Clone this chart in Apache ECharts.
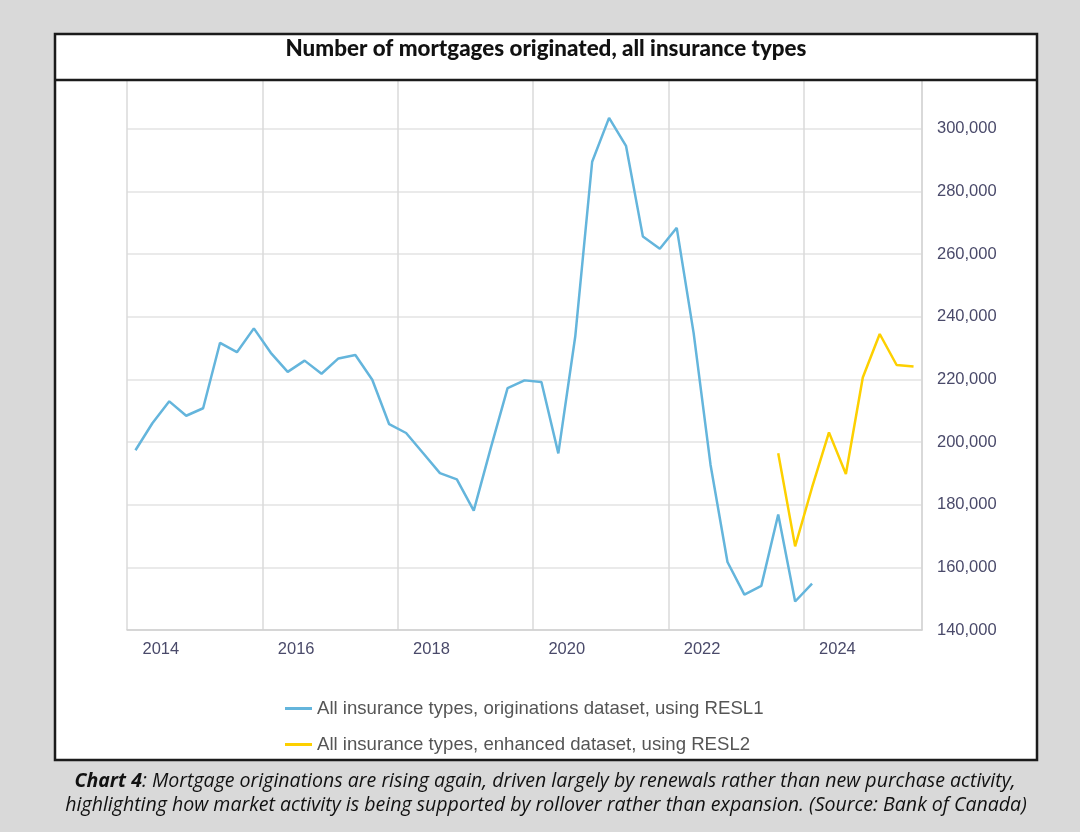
<!DOCTYPE html>
<html><head><meta charset="utf-8">
<script src="https://cdn.jsdelivr.net/npm/echarts@6/dist/echarts.min.js"></script>
<style>html,body{margin:0;padding:0;background:#d9d9d9;}#chart{width:1080px;height:832px;}</style>
</head><body><div id="chart"></div>
<script>
// ---- data ----
const titleText = 'Number of mortgages originated, all insurance types';
const captionBold = 'Chart 4';
const captionLine1 = ': Mortgage originations are rising again, driven largely by renewals rather than new purchase activity,';
const captionLine2 = 'highlighting how market activity is being supported by rollover rather than expansion. (Source: Bank of Canada)';
const seriesNames = ['All insurance types, originations dataset, using RESL1', 'All insurance types, enhanced dataset, using RESL2'];
const resl1Quarters = ['2014Q1','2014Q2','2014Q3','2014Q4','2015Q1','2015Q2','2015Q3','2015Q4','2016Q1','2016Q2','2016Q3','2016Q4','2017Q1','2017Q2','2017Q3','2017Q4','2018Q1','2018Q2','2018Q3','2018Q4','2019Q1','2019Q2','2019Q3','2019Q4','2020Q1','2020Q2','2020Q3','2020Q4','2021Q1','2021Q2','2021Q3','2021Q4','2022Q1','2022Q2','2022Q3','2022Q4','2023Q1','2023Q2','2023Q3','2023Q4','2024Q1'];
const resl1Values = [197400,206000,213000,208400,210800,231700,228700,236300,228500,222400,226000,221800,226700,227800,219900,205700,202900,196500,190100,188100,178100,198000,217200,219700,219200,196400,233700,289500,303500,294600,265600,261700,268400,234800,192700,161700,151300,154100,176900,149100,154800];
const resl2Quarters = ['2023Q3','2023Q4','2024Q1','2024Q2','2024Q3','2024Q4','2025Q1','2025Q2','2025Q3'];
const resl2Values = [196400,166700,185500,203100,189800,220600,234500,224600,224100];
const xLabelYears = [2014, 2016, 2018, 2020, 2022, 2024];

// ---- helpers ----
function quarterToX(q){ const y = +q.slice(0,4), n = +q.slice(5); return y + (n-1)/4 + 0.125; }
const mctx = document.createElement('canvas').getContext('2d');
function textW(font, s){ mctx.font = font; return mctx.measureText(s).width; }
const sansFam = '"Liberation Sans", Arial, sans-serif';
const titleFam = 'Lato, "Open Sans", sans-serif';
const capFam = '"Open Sans", "Noto Sans", sans-serif';
const titleSize = 20 * 518 / textW('bold 20px ' + titleFam, titleText);
const capSize = 17 * 962 / textW('italic 17px ' + capFam, captionLine2);

const chart = echarts.init(document.getElementById('chart'), null, {renderer: 'canvas'});
chart.setOption({
  animation: false,
  backgroundColor: '#d9d9d9',
  graphic: [
    {type: 'rect', z: -10, shape: {x: 55, y: 34, width: 982, height: 726}, style: {fill: '#ffffff', stroke: '#1b1b1b', lineWidth: 2.5}},
    {type: 'line', z: 100, shape: {x1: 55, y1: 80, x2: 1037, y2: 80}, style: {stroke: '#1b1b1b', lineWidth: 2.5}},
    {type: 'text', z: 100, style: {text: titleText, x: 546, y: 49, align: 'center', verticalAlign: 'middle', fontSize: titleSize, fontWeight: 900, fontFamily: titleFam, fill: '#111111'}},
    {type: 'text', z: 100, style: {text: '{b|' + captionBold + '}{i|' + captionLine1 + '}', x: 545, y: 781, align: 'center', verticalAlign: 'middle',
      rich: {b: {fontSize: capSize, fontWeight: 'bold', fontStyle: 'italic', fontFamily: capFam, fill: '#111111'},
             i: {fontSize: capSize, fontStyle: 'italic', fontFamily: capFam, fill: '#111111'}}}},
    {type: 'text', z: 100, style: {text: captionLine2, x: 546, y: 805, align: 'center', verticalAlign: 'middle', fontSize: capSize, fontStyle: 'italic', fontFamily: capFam, fill: '#111111'}}
  ],
  grid: {left: 127, right: 158, top: 80, bottom: 202, containLabel: false},
  legend: {
    data: seriesNames, orient: 'vertical', left: 280, top: 694, itemWidth: 27, itemHeight: 3, icon: 'rect', itemGap: 17,
    textStyle: {fontSize: 18.6, color: '#555555', fontFamily: sansFam}
  },
  xAxis: {
    type: 'value', min: 2014, max: 2025.75, interval: 2,
    axisLine: {show: true, lineStyle: {color: '#d0d0d0', width: 1.5}},
    axisTick: {show: false},
    splitLine: {show: true, lineStyle: {color: '#dadada', width: 1.5}},
    axisLabel: {customValues: xLabelYears.map(y => y + 0.5), formatter: v => String(Math.floor(v)), color: '#4a4a6a', fontSize: 16.5, margin: 11, fontFamily: sansFam}
  },
  yAxis: {
    type: 'value', position: 'right', min: 140000, max: 315600, interval: 20000,
    axisLine: {show: true, lineStyle: {color: '#d6d6d6', width: 1.5}},
    axisTick: {show: false},
    splitLine: {show: true, lineStyle: {color: '#e3e3e3', width: 1.5}},
    axisLabel: {formatter: v => (v % 20000 === 0 ? v.toLocaleString('en-US') : ''), color: '#4a4a6a', fontSize: 16.5, margin: 15, fontFamily: sansFam}
  },
  series: [
    {name: seriesNames[0], type: 'line', symbol: 'none', lineStyle: {width: 2.5, color: '#64b5dc'}, itemStyle: {color: '#64b5dc'},
     data: resl1Quarters.map((q, i) => [quarterToX(q), resl1Values[i]])},
    {name: seriesNames[1], type: 'line', symbol: 'none', lineStyle: {width: 2.5, color: '#fdd000'}, itemStyle: {color: '#fdd000'},
     data: resl2Quarters.map((q, i) => [quarterToX(q), resl2Values[i]])}
  ]
});
</script></body></html>
